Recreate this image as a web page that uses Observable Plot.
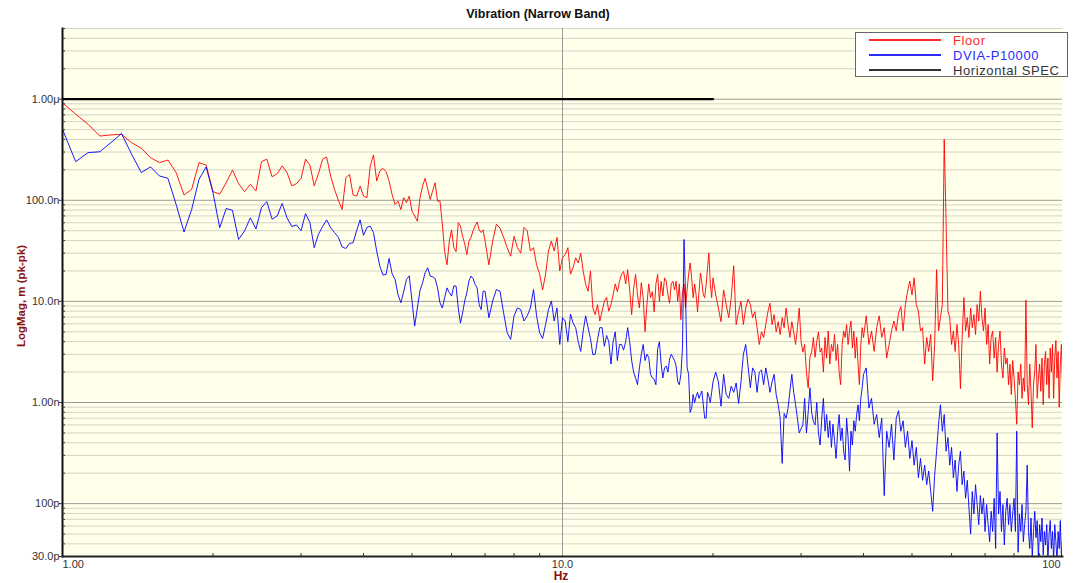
<!DOCTYPE html>
<html>
<head>
<meta charset="utf-8">
<script src="https://cdn.jsdelivr.net/npm/d3@7"></script>
<script src="https://cdn.jsdelivr.net/npm/@observablehq/plot@0.6"></script>
<style>
  body { margin: 0; background: #fff; font-family: "Liberation Sans", Arial, sans-serif; }
  #wrap { position: relative; width: 1073px; height: 583px; overflow: hidden; }
  #chart { position: absolute; left: 0; top: 0; }
  #title { position: absolute; top: 7px; left: 0; width: 1076px; text-align: center; font-weight: bold; font-size: 12.5px; color: #111; }
  #ylabel { position: absolute; left: 21px; top: 296px; transform: translate(-50%, -50%) rotate(-90deg); white-space: nowrap; font-weight: bold; font-size: 11.5px; color: #8b1010; }
  #xlabel { position: absolute; left: 561px; top: 576px; transform: translate(-50%, -50%); font-weight: bold; font-size: 12px; color: #8b1010; }
  #legend { position: absolute; left: 855px; top: 32px; width: 213px; height: 45px; background: #fff; border: 1px solid #666; box-sizing: border-box; padding-top: 0px; }
  .row { position: relative; height: 15px; }
  .row .sw { position: absolute; left: 13px; width: 72px; top: 6px; height: 0; border-top: 2px solid; }
  .row .tx { position: absolute; left: 97px; top: 0px; font-size: 13px; line-height: 15px; letter-spacing: 0.6px; white-space: nowrap; }
</style>
</head>
<body>
<div id="wrap">
  <div id="chart"></div>
  <div id="title"></div>
  <div id="ylabel"></div>
  <div id="xlabel"></div>
  <div id="legend"></div>
</div>
<script>
// ---------- text ----------
const chartTitle = "Vibration (Narrow Band)";
const yAxisLabel = "LogMag, m (pk-pk)";
const xAxisLabel = "Hz";

// ---------- series (values in nm, pk-pk), narrow-band bins ----------
// bin layout of the four segments: start frequency (Hz) and bin width (Hz)
const binStarts = [1, 7.125, 20.25, 40.5];
const binSteps = [0.0625, 0.125, 0.25, 0.5];

// Floor
const floorA = [920,710,565,432,443,450,371,327,264,236,250,188,113,128,236,223,122,115,149,199,146,122,144,124,241,255,171,183,219,188,139,146,165,255,223,139,183,255,268,174,128,100,
  81,167,180,113,110,138,110,106,218,281,155,195,207,192,155,114,91,98,81,106,95,110,78,70,62,106,138,165,129,102,124,149,98,99,58,31,23,39.5,51,34,31,60,56,44,37,29,39.5,43,50,56,61,51,48,51,39.5];
const floorB = [23,39.5,58,53,43,34,28,44,34,30,54,50,31.5,34,23,18.6,13,18.6,31.5,39.5,31.5,43,20,27,29,34,18.6,21.5,27,24,30,20,14.7,12.6,20,8.6,7.4,9.3,6.4,8,10,11,8,
  9.3,11.6,14.9,12.5,15.8,18.5,19.8,14.9,20.6,13,7.4,13.5,18.5,11.6,8.6,15.3,10.9,5.0,9.3,14.9,10.9,12.5,7.9,14.9,18.5,10,15.8,11.3,17.1,15.8,11.6,9.6,14.9,15.8,13,15.8,10,14.9,6.6,12.5,14.9,8.6,13,18.5,24,17.1,10.9,14.9,11.6,7.9,12.5,19.1,15.3,11.6,10.9,14.4,21.4,30.2,14.9,10.9,17.1];
const floorC = [11.6,8.6,6.3,13,9.3,6.9,10.9,22.5,5.9,7.9,10,5.9,8.6,10.5,9.3,6.9,7.9,5.5,3.75,5.0,4.4,5.9,7.9,9.6,5.9,7.4,5.0,6.3,4.7,6.9,5.5,8.6,5.9,4.4,6.3,5.0,3.75,5.5,8.6,4.0,3.15,3.75,2.0,1.4,2.8,3.15,4.4,2.8,4.0,5.0,3.15,
  3.46,2.0,4.4,2.75,5.1,2.4,3.75,3.2,4.7,2.6,3.75,2.0,1.5,3.75,5.1,4.4,5.9,3.75,5.1,6.4,3.46,5.1,2.75,4.4,2.4,1.5,3.75,5.5,4.4];
const floorD = [7.2,3.75,5.1,3.2,5.5,7.2,4.4,5.5,2.75,3.75,5.1,6.4,5.1,7.7,8.9,5.1,9.3,12.6,15.9,11.6,17.1,9.3,8.0,5.1,5.5,2.4,4.4,3.2,4.7,1.64,3.75,20.6,5.1,6.9,9.3,400,62,8,6.9,3.75,
  5.1,3.2,5.9,3.75,1.37,4.4,10.9,5.1,6.9,4.4,8.6,5.5,7.4,4.7,9.3,6.4,12.6,6.9,5.1,8.6,3.75,5.9,2.4,4.4,5.1,2.75,4.4,2.0,3.75,5.1,2.4,1.75,3.46,2.4,2.75,1.5,2.4,1.2,2.6,1.75,
  1.1,0.61,2.0,1.5,2.4,1.1,1.75,1.29,10.3,1.5,0.95,2.4,1.29,0.56,1.5,2.0,3.75,1.1,1.75,2.4,1.29,2.75,0.95,2.4,3.2,1.5,2.75,1.1,3.46,2.0,3.75,1.1,2.75,4.1,1.75,3.2,0.9,2.4,3.75,1.5];

// DVIA-P10000
const dviaA = [504,241,296,302,372,457,285,188,214,174,165,91,48.6,81,161,214,119,53.5,83,79.5,41,49.7,67,52,84.5,97,65,70,93,67,55,57,50,74,60,34,46,55,64,53.5,48,43,
  34.4,33.4,37.4,38,50,64,45,54,55.5,48,31.4,22.3,18.2,18.5,26.6,18.8,16.5,11.7,9.7,12.5,16.5,17.9,10.1,5.7,8.6,12.8,15.3,19.2,21.5,17.8,17.5,16.8,13.6,9.7,8.6,10.9,13.6,12.2,11.3,14.2,14.2,8.6,6.1,7.7,10.1,12.2,16.0,17.8,16.8,14.7,13.6,9.3,8.3,12.6,12.6];
const dviaB = [6.9,10.1,13.1,12.6,7.7,4.9,4.2,7.2,8.6,8.3,6.4,7.2,8.6,13.1,7.2,4.9,4.3,5.9,8.3,10.1,6.4,8.6,3.75,6.9,6.4,4.0,7.5,6.1,5.5,4.0,3.2,5.1,7.2,5.5,4.3,2.97,3.0,4.2,5.5,5.5,3.6,4.6,4.0,
  2.4,4.0,5.0,2.6,3.75,3.75,3.3,4.0,5.5,4.0,2.6,2.0,1.75,1.5,2.2,3.0,3.75,2.6,3.0,2.8,1.9,1.75,1.7,1.5,3.4,4.0,2.4,1.75,2.2,2.3,2.0,2.7,3.0,2.8,2.6,2.3,1.6,1.5,1.9,3.4,41,10.9,2.2,1.9,0.8,0.87,1.2,1.0,1.15,1.26,1.1,1.2,1.3,0.95,0.7,0.7,1.26,1.15,1.0,1.26,1.6];
const dviaC = [2.0,1.6,0.92,1.9,1.2,1.1,1.45,1.26,1.56,0.98,1.6,3.0,3.75,2.3,1.4,2.2,2.0,1.26,2.0,2.1,1.5,2.2,1.7,1.26,1.6,1.9,1.2,0.95,0.7,0.25,0.78,0.7,0.87,1.3,1.9,1.26,0.95,0.7,0.5,0.55,0.6,1.1,0.5,0.8,1.4,0.8,0.65,0.6,1.0,0.5,0.38,
  0.70,1.1,0.52,0.76,0.45,0.66,0.36,0.61,0.42,0.28,0.52,0.76,0.42,0.56,0.33,0.27,0.70,0.45,0.21,0.52,0.38,0.66,0.52,0.76,0.95,0.66,1.1,1.4,1.9];
const dviaD = [2.2,0.88,1.1,0.61,0.76,0.45,0.70,0.12,0.52,0.36,0.61,0.27,0.70,0.83,0.52,0.66,0.36,0.52,0.28,0.42,0.24,0.36,0.18,0.28,0.17,0.24,0.154,0.21,0.132,0.084,0.19,0.33,0.61,0.95,0.52,0.76,0.33,0.45,0.24,0.36,
  0.18,0.27,0.132,0.24,0.33,0.154,0.21,0.113,0.17,0.09,0.05,0.132,0.079,0.154,0.098,0.062,0.12,0.079,0.113,0.053,0.098,0.062,0.042,0.084,0.053,0.113,0.036,0.50,0.079,0.132,0.053,0.098,0.039,0.084,0.113,0.062,0.098,0.053,0.079,0.113,
  0.053,0.52,0.033,0.079,0.053,0.098,0.042,0.062,0.084,0.24,0.053,0.036,0.072,0.029,0.053,0.084,0.046,0.068,0.029,0.062,0.042,0.072,0.031,0.053,0.039,0.062,0.027,0.05,0.068,0.036,0.053,0.027,0.062,0.042,0.027,0.053,0.036,0.068,0.029,0.046];

// Horizontal SPEC (nm)
const specFreq = [1, 20];
const specValue = [1000, 1000];

// ---------- series names / colours ----------
const seriesNames = ["Floor", "DVIA-P10000", "Horizontal SPEC"];
const seriesColors = ["#ff0000", "#0000ff", "#000000"];
const legendColors = ["#ff2a2a", "#2a2aff", "#333333"];

// ---------- ticks ----------
const xTicks = [1, 10, 100];
const xTickLabels = ["1.00", "10.0", "100"];
const yTicks = [1000, 100, 10, 1, 0.1, 0.03];
const yTickLabels = ["1.00\u03bc", "100.0n", "10.0n", "1.00n", "100p", "30.0p"];
const yDecades = [1000, 100, 10, 1, 0.1];
const minorMultipliers = [2, 3, 4, 5, 6, 7, 8, 9];
const yDomain = [0.03, 5000];
const xDomain = [1, 100];

// ---------- build tables ----------
function buildRows(segments) {
  const rows = [];
  segments.forEach((arr, s) => arr.forEach((v, i) => rows.push({ f: binStarts[s] + i * binSteps[s], v })));
  return rows;
}
const floorRows = buildRows([floorA, floorB, floorC, floorD]);
const dviaRows = buildRows([dviaA, dviaB, dviaC, dviaD]);
const specRows = specFreq.map((f, i) => ({ f, v: specValue[i] }));

const yMinor = [];
[0.01, 0.1, 1, 10, 100, 1000].forEach(d => minorMultipliers.forEach(m => {
  const v = +(d * m).toPrecision(3);
  if (v > yDomain[0] && v <= yDomain[1] && !yDecades.includes(v)) yMinor.push(v);
}));
const xMinor = [];
[1, 10].forEach(d => minorMultipliers.forEach(m => xMinor.push(d * m)));
const yLabelOf = new Map(yTicks.map((t, i) => [t, yTickLabels[i]]));

const tickStyle = { fontSize: 11, fill: "#333", label: null };

const plot = Plot.plot({
  width: 1073,
  height: 583,
  marginLeft: 62,
  marginRight: 11,
  marginTop: 28,
  marginBottom: 27,
  style: { background: "transparent", fontFamily: "'Liberation Sans', Arial, sans-serif", overflow: "visible" },
  x: { type: "log", domain: xDomain, axis: null, label: null },
  y: { type: "log", domain: yDomain, axis: null, label: null },
  marks: [
    Plot.frame({ fill: "#ffffea", stroke: null }),
    Plot.ruleY(yMinor, { stroke: "#d3d3c6", strokeWidth: 1 }),
    Plot.ruleY(yDecades, { stroke: "#9c9c96", strokeWidth: 1 }),
    Plot.ruleX([10], { stroke: "#9c9c96", strokeWidth: 1 }),
    Plot.line(specRows, { x: "f", y: "v", stroke: seriesColors[2], strokeWidth: 2.2 }),
    Plot.line(floorRows, { x: "f", y: "v", stroke: seriesColors[0], strokeWidth: 0.9, clip: true }),
    Plot.line(dviaRows, { x: "f", y: "v", stroke: seriesColors[1], strokeWidth: 0.9, clip: true }),
    Plot.frame({ anchor: "left", stroke: "#111", strokeWidth: 2 }),
    Plot.frame({ anchor: "bottom", stroke: "#222", strokeWidth: 2 }),
    Plot.axisY(yMinor, { anchor: "left", tickSize: -3, tickFormat: () => "", stroke: "#333", label: null }),
    Plot.axisY(yTicks, { anchor: "left", tickSize: 3, tickPadding: 0, tickFormat: d => yLabelOf.get(d), ...tickStyle, stroke: "#333" }),
    Plot.axisX(xMinor, { anchor: "bottom", tickSize: -3, tickFormat: () => "", stroke: "#333", label: null }),
    Plot.axisX([xTicks[0]], { anchor: "bottom", tickSize: 0, tickPadding: 4, textAnchor: "start", tickFormat: () => xTickLabels[0], ...tickStyle }),
    Plot.axisX([xTicks[1]], { anchor: "bottom", tickSize: 0, tickPadding: 4, tickFormat: () => xTickLabels[1], ...tickStyle }),
    Plot.axisX([xTicks[2]], { anchor: "bottom", tickSize: 0, tickPadding: 4, textAnchor: "end", dx: -2, tickFormat: () => xTickLabels[2], ...tickStyle })
  ]
});
document.getElementById("chart").appendChild(plot);

document.getElementById("title").textContent = chartTitle;
document.getElementById("ylabel").textContent = yAxisLabel;
document.getElementById("xlabel").textContent = xAxisLabel;

const legend = document.getElementById("legend");
seriesNames.forEach((name, i) => {
  const row = document.createElement("div");
  row.className = "row";
  const sw = document.createElement("div");
  sw.className = "sw";
  sw.style.borderTopColor = legendColors[i];
  const tx = document.createElement("div");
  tx.className = "tx";
  tx.style.color = legendColors[i];
  tx.textContent = name;
  row.appendChild(sw);
  row.appendChild(tx);
  legend.appendChild(row);
});
</script>
</body>
</html>
